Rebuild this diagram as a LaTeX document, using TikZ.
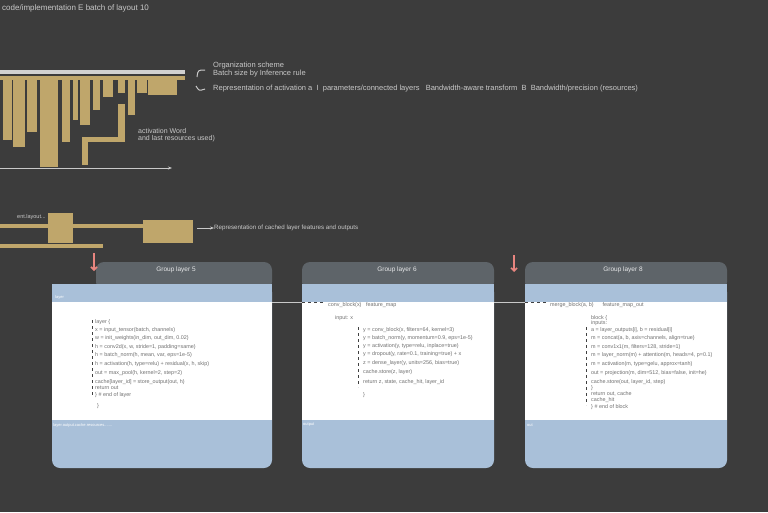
\documentclass[tikz,border=0pt]{standalone}
\usepackage{fontspec}
\setmainfont{Liberation Sans}
\usetikzlibrary{arrows.meta,positioning}
\definecolor{bgdark}{HTML}{3C3C3C}
\definecolor{headgray}{HTML}{5E6469}
\definecolor{bandblue}{HTML}{A9C0D9}
\definecolor{gold}{HTML}{BFA66B}
\definecolor{softtext}{HTML}{C9C9C9}
\definecolor{inktext}{HTML}{707070}
\definecolor{pinkred}{HTML}{E8857F}

\begin{document}
\begin{tikzpicture}[x=1pt, y=-1pt,
  note/.style={font=\fontsize{7}{8}\selectfont, text=softtext, anchor=west, inner sep=0pt},
  code/.style={font=\fontsize{5.4}{6}\selectfont, text=inktext, anchor=west, inner sep=0pt},
  tag/.style={font=\fontsize{4}{5}\selectfont, text=white, anchor=west, inner sep=0pt},
  headtxt/.style={font=\fontsize{6.5}{7}\selectfont, text=white!85!headgray, inner sep=0pt},
  bar/.style={fill=gold},
  link/.style={draw=softtext, line width=0.8pt},
  guide/.style={draw=black!75, dashed, line width=0.6pt},
  flow/.style={-{Stealth[length=4pt]}, draw=softtext, line width=0.9pt},
  drop/.style={-{Straight Barb[length=3pt]}, draw=pinkred, line width=1.6pt}
]
\useasboundingbox (0,0) rectangle (768,512);
\fill[bgdark] (0,0) rectangle (768,512);

% title line
\node[note, font=\fontsize{8}{9}\selectfont] (title) at (2,8) {code/implementation E  batch of layout 10};

% upper block of bars
\fill[softtext!85] (0,70) rectangle (185,74);
\fill[bar] (0,76) rectangle (185,80);
\foreach \x/\w/\b in {3/9/140, 13/12/147, 27/10/132, 40/18/167, 62/8/142, 73/5/120,
  80/10/125, 93/7/110, 103/10/97, 118/7/93, 128/7/115, 137/10/93, 148/29/95}
  \fill[bar] (\x,80) rectangle ++(\w,\b-80);
\fill[bar] (118,104) rectangle (125,142);
\fill[bar] (82,137) rectangle (125,142);
\fill[bar] (82,142) rectangle (88,165);
\node[note] (actA) at (138,131) {activation Word};
\node[note] (actB) at (138,139) {and last resources used)};
\coordinate (axisL) at (0,168);
\coordinate (axisR) at (172,168);
\draw[flow] (axisL) -- (axisR);

% braces and legend
\draw[softtext, line width=1pt] (205,70) .. controls (198,70) .. (197,77);
\draw[softtext, line width=1pt] (196,86) .. controls (199,91) .. (205,89);
\node[note, font=\fontsize{7.5}{8}\selectfont] (legA) at (213,66) {Organization scheme};
\node[note, font=\fontsize{7.5}{8}\selectfont] (legB) at (213,74) {Batch size  by  Inference rule};
\node[note, font=\fontsize{7.5}{8}\selectfont] (legC) at (213,89) {Representation of activation a \ I \ parameters/connected layers \ \ Bandwidth-aware transform \ B \ Bandwidth/precision (resources)};

% lower block of bars
\node[note, font=\fontsize{5.5}{6}\selectfont] (entry) at (17,217) {ent.layout...};
\fill[bar] (0,224) rectangle (145,228);
\fill[bar] (48,213) rectangle (73,243);
\fill[bar] (143,220) rectangle (193,243);
\fill[bar] (0,244) rectangle (103,248);
\coordinate (stepL) at (197,228);
\node[note, font=\fontsize{6.2}{7}\selectfont] (cached) at (214,228) {Representation of cached layer features and outputs};
\draw[flow] (stepL) -- (cached);

% cards
\fill[headgray, rounded corners=8] (96,262) rectangle (272,290);
\fill[headgray, rounded corners=8] (302,262) rectangle (494,290);
\fill[headgray, rounded corners=8] (525,262) rectangle (727,290);
\foreach \l/\r in {52/272, 302/494, 525/727} {
  \fill[bandblue, rounded corners=8] (\l,284) rectangle (\r,468);
  \fill[bandblue] (\l,284) rectangle (\r,300);
  \fill[white] (\l,302) rectangle (\r,420);
}
\node[headtxt] (headA) at (176,270) {Group layer 5};
\node[headtxt] (headB) at (397,270) {Group layer 6};
\node[headtxt] (headC) at (623,270) {Group layer 8};

% drops into cards
\coordinate (dropA) at (94,253);
\coordinate (dropC) at (514,255);
\coordinate (tipA) at (94,271);
\coordinate (tipC) at (514,272);
\draw[drop] (dropA) -- (tipA);
\draw[drop] (dropC) -- (tipC);

% links between cards
\coordinate (outA) at (272,302);
\coordinate (inB) at (302,302);
\coordinate (outB) at (494,302);
\coordinate (inC) at (525,302);
\coordinate (endB) at (326,302);
\coordinate (endC) at (547,302);
\draw[link] (outA) -- (inB);
\draw[link] (outB) -- (inC);
\draw[guide] (inB) -- (endB);
\draw[guide] (inC) -- (endC);

% card A
\node[tag] (bandA) at (55,297) {layer};
\node[tag] (footA) at (53,425) {layer.output.cache.resources.......};
\draw[guide] (92,320) -- (92,396);
\foreach \y/\t in {322/{layer \{}, 330/{x = input\_tensor(batch, channels)},
  338/{w = init\_weights(in\_dim, out\_dim, 0.02)},
  347/{h = conv2d(x, w, stride=1, padding=same)},
  355/{h = batch\_norm(h, mean, var, eps=1e-5)},
  364/{h = activation(h, type=relu) + residual(x, h, skip)},
  373/{out = max\_pool(h, kernel=2, step=2)},
  382/{cache[layer\_id] = store\_output(out, h)},
  388/{return out}, 395/{\} \# end of layer}}
  \node[code] at (95,\y) {\t};
\node[code] (hookA) at (97,406) {\}};

% card B
\node[tag] (footB) at (303,425) {output};
\node[code] (convB) at (328,305) {conv\_block(x) \ \ feature\_map};
\node[code] (inputB) at (335,318) {input: x};
\draw[guide] (358,327) -- (358,387);
\foreach \y/\t in {330/{y = conv\_block(x, filters=64, kernel=3)},
  338/{y = batch\_norm(y, momentum=0.9, eps=1e-5)},
  346/{y = activation(y, type=relu, inplace=true)},
  354/{y = dropout(y, rate=0.1, training=true) + x},
  363/{z = dense\_layer(y, units=256, bias=true)},
  372/{cache.store(z, layer)},
  382/{return z, state, cache\_hit, layer\_id}}
  \node[code] at (363,\y) {\t};
\node[code] (hookB) at (363,395) {\}};

% card C
\node[tag] (footC) at (527,425) {out};
\node[code] (convC) at (550,305) {merge\_block(a, b) \ \ \ \ \ feature\_map\_out};
\draw[guide] (586,327) -- (586,405);
\foreach \y/\t in {318/{block \{}, 323/{inputs:},
  330/{a = layer\_outputs[i], b = residual[i]},
  338/{m = concat(a, b, axis=channels, align=true)},
  347/{m = conv1x1(m, filters=128, stride=1)},
  355/{m = layer\_norm(m) + attention(m, heads=4, p=0.1)},
  364/{m = activation(m, type=gelu, approx=tanh)},
  373/{out = projection(m, dim=512, bias=false, init=he)},
  382/{cache.store(out, layer\_id, step)},
  388/{\}},
  394/{return out, cache},
  400/{cache\_hit},
  407/{\} \# end of block}}
  \node[code] at (591,\y) {\t};
\end{tikzpicture}
\end{document}
